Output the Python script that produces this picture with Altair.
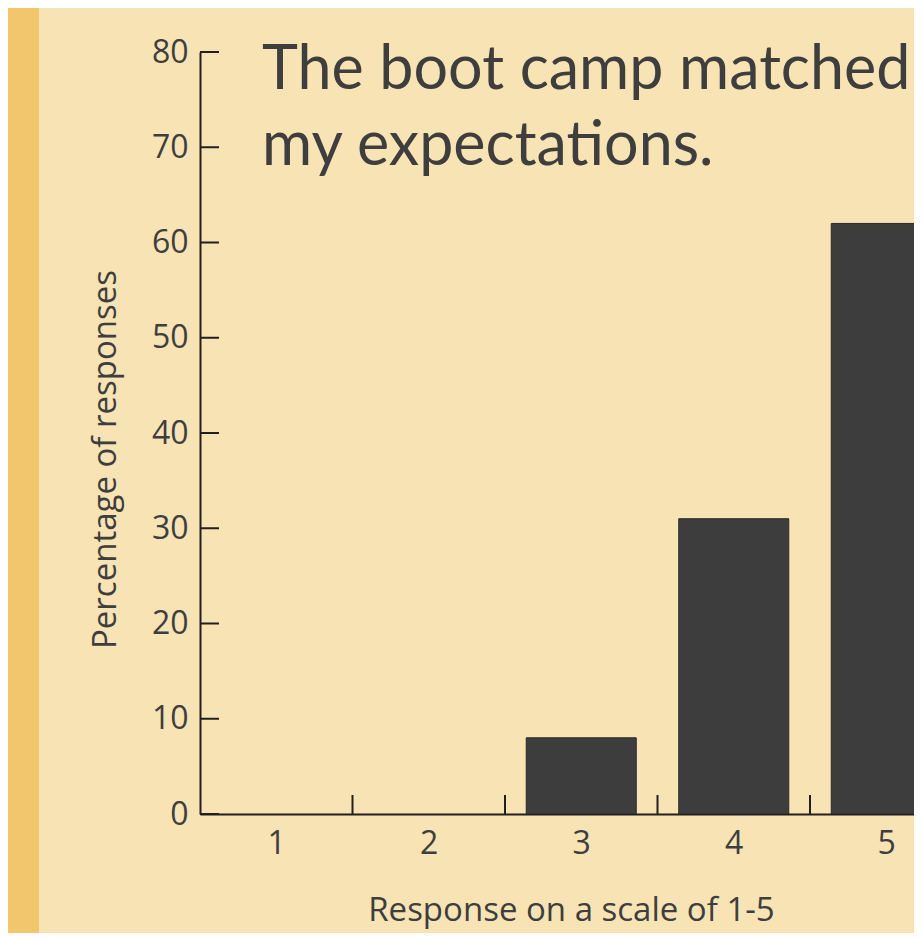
import altair as alt
import pandas as pd

# ---- data -------------------------------------------------------------
RESPONSES = [1, 2, 3, 4, 5]
PERCENTAGES = [0, 0, 8, 31, 62]
Y_TICK_VALUES = [0, 10, 20, 30, 40, 50, 60, 70, 80]
X_TICK_BOUNDS = [1.5, 2.5, 3.5, 4.5]
X_LABEL_VALUES = [1, 2, 3, 4, 5]
TITLE_LINES = ["The boot camp matched", "my expectations."]
X_TITLE = "Response on a scale of 1-5"
Y_TITLE = "Percentage of responses"

# ---- layout / style ---------------------------------------------------
W, H = 714, 762
PAD_L, PAD_T, PAD_B = 192, 44, 119
BAND = 152.5
X_DOMAIN = [0.5, 0.5 + W / BAND]
Y_DOMAIN = [0, 80]

FONT = "Open Sans"
TITLE_FONT = "Lato"
TEXT = "#3e3e3e"
AXIS = "#231f20"
BAR = "#3d3d3d"
PANEL = "#f8e3b4"
OUTER = "#f2c76b"
LABEL_SIZE = 32
AXIS_TITLE_SIZE = 33

bars_df = pd.DataFrame({"response": RESPONSES, "pct": PERCENTAGES})
yt_df = pd.DataFrame({"pct": Y_TICK_VALUES})
xt_df = pd.DataFrame({"response": X_TICK_BOUNDS})
one = pd.DataFrame({"k": [0]})

xs = alt.Scale(domain=X_DOMAIN, nice=False, zero=False, padding=0)
ys = alt.Scale(domain=Y_DOMAIN, nice=False, zero=True, padding=0)

x_axis = alt.Axis(
    values=X_LABEL_VALUES, ticks=False, tickSize=0, labelPadding=14,
    labelFlush=False, grid=False,
    domainColor=AXIS, domainWidth=2,
    labelFont=FONT, labelFontSize=LABEL_SIZE, labelColor=TEXT,
    title=X_TITLE, titleFont=FONT, titleFontSize=AXIS_TITLE_SIZE, titleFontWeight="normal",
    titleColor=TEXT, titleX=371, titleY=106, titleAlign="center",
    titleBaseline="alphabetic",
)
y_axis = alt.Axis(
    values=Y_TICK_VALUES, ticks=False, tickSize=0, labelPadding=12,
    grid=False, domainColor=AXIS, domainWidth=2,
    labelFont=FONT, labelFontSize=LABEL_SIZE, labelColor=TEXT,
    title=Y_TITLE, titleFont=FONT, titleFontSize=AXIS_TITLE_SIZE, titleFontWeight="normal",
    titleColor=TEXT, titleX=-85, titleY=407, titleAlign="center",
    titleBaseline="alphabetic", titleAngle=270,
)

strip = alt.Chart(one).mark_rect(color=OUTER).encode(
    x=alt.value(-PAD_L), x2=alt.value(-161),
    y=alt.value(-PAD_T), y2=alt.value(H + PAD_B),
)

bars = alt.Chart(bars_df).transform_filter(
    alt.datum.pct > 0
).mark_bar(
    size=110, fill=BAR, stroke="#2b2b2b", strokeWidth=1, clip=True, orient="vertical"
).encode(
    x=alt.X("response:Q", scale=xs, axis=x_axis),
    y=alt.Y("pct:Q", scale=ys, axis=y_axis),
)

ytick = alt.Chart(yt_df).mark_rule(color=AXIS, strokeWidth=2).encode(
    y=alt.Y("pct:Q", scale=ys, axis=y_axis),
    x=alt.value(0), x2=alt.value(19),
)

xtick = alt.Chart(xt_df).mark_rule(color=AXIS, strokeWidth=2).encode(
    x=alt.X("response:Q", scale=xs, axis=x_axis),
    y=alt.value(H - 19), y2=alt.value(H),
)

title = alt.Chart(one).mark_text(
    text=TITLE_LINES, align="left", baseline="alphabetic",
    font=TITLE_FONT, fontSize=61, lineHeight=76, color=TEXT,
).encode(x=alt.value(62), y=alt.value(37))

chart = alt.layer(strip, bars, ytick, xtick, title).properties(
    width=W, height=H,
    autosize=alt.AutoSizeParams(type="none"),
    padding={"left": PAD_L, "top": PAD_T, "right": 0, "bottom": PAD_B},
    background=PANEL,
).configure_view(strokeWidth=0)

chart.save("out.html", embed_options={"renderer": "svg", "actions": False})
